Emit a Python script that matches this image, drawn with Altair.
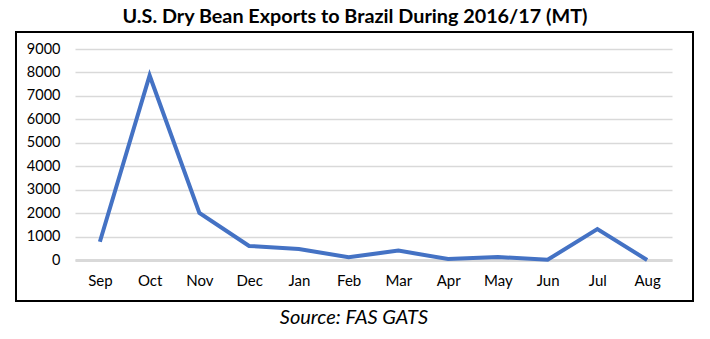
import altair as alt
import pandas as pd

months = ["Sep", "Oct", "Nov", "Dec", "Jan", "Feb", "Mar", "Apr", "May", "Jun", "Jul", "Aug"]
exports = [780, 7870, 2010, 600, 470, 115, 400, 40, 130, 10, 1320, 0]
y_ticks = [0, 1000, 2000, 3000, 4000, 5000, 6000, 7000, 8000, 9000]
title_text = "U.S. Dry Bean Exports to Brazil During 2016/17 (MT)"
source_text = "Source: FAS GATS"

df = pd.DataFrame({"month": months, "exports": exports})
FONT = "Lato"

line = alt.Chart(df).mark_line(color="#4472C4", strokeWidth=4, strokeJoin="miter").encode(
    x=alt.X("month:N", sort=months, scale=alt.Scale(paddingOuter=0.5),
            axis=alt.Axis(title=None, labelAngle=0, ticks=False, grid=False,
                          domainColor="#d9d9d9", domainWidth=3, labelPadding=13,
                          labelFont=FONT, labelFontSize=15, labelColor="#000000")),
    y=alt.Y("exports:Q", scale=alt.Scale(domain=[0, 9000], nice=False),
            axis=alt.Axis(title=None, values=y_ticks, format="d", ticks=False, domain=False,
                          gridColor="#d9d9d9", gridWidth=1.5, labelPadding=15,
                          labelFont=FONT, labelFontSize=14.5, labelColor="#000000")),
)

box = alt.Chart(df).mark_rect(fill=None, stroke="#000000", strokeWidth=2).encode(
    x=alt.value(-59), x2=alt.value(618), y=alt.value(-17), y2=alt.value(252)
)

title = alt.Chart(pd.DataFrame({"t": [title_text]})).mark_text(
    font=FONT, fontSize=19.8, fontWeight="bold", color="#000000", baseline="middle", align="center"
).encode(text="t:N", x=alt.value(280), y=alt.value(-32))

source = alt.Chart(pd.DataFrame({"t": [source_text]})).mark_text(
    font=FONT, fontSize=20, fontStyle="italic", color="#000000", baseline="middle", align="center"
).encode(text="t:N", x=alt.value(279), y=alt.value(269))

chart = alt.layer(box, line, title, source).properties(
    width=597, height=211,
    autosize=alt.AutoSizeParams(type="none"),
    padding={"left": 75, "top": 49, "right": 38, "bottom": 79},
    background="#ffffff",
).configure_view(stroke=None)

chart.save("out.html", embed_options={"renderer": "svg", "actions": False})
